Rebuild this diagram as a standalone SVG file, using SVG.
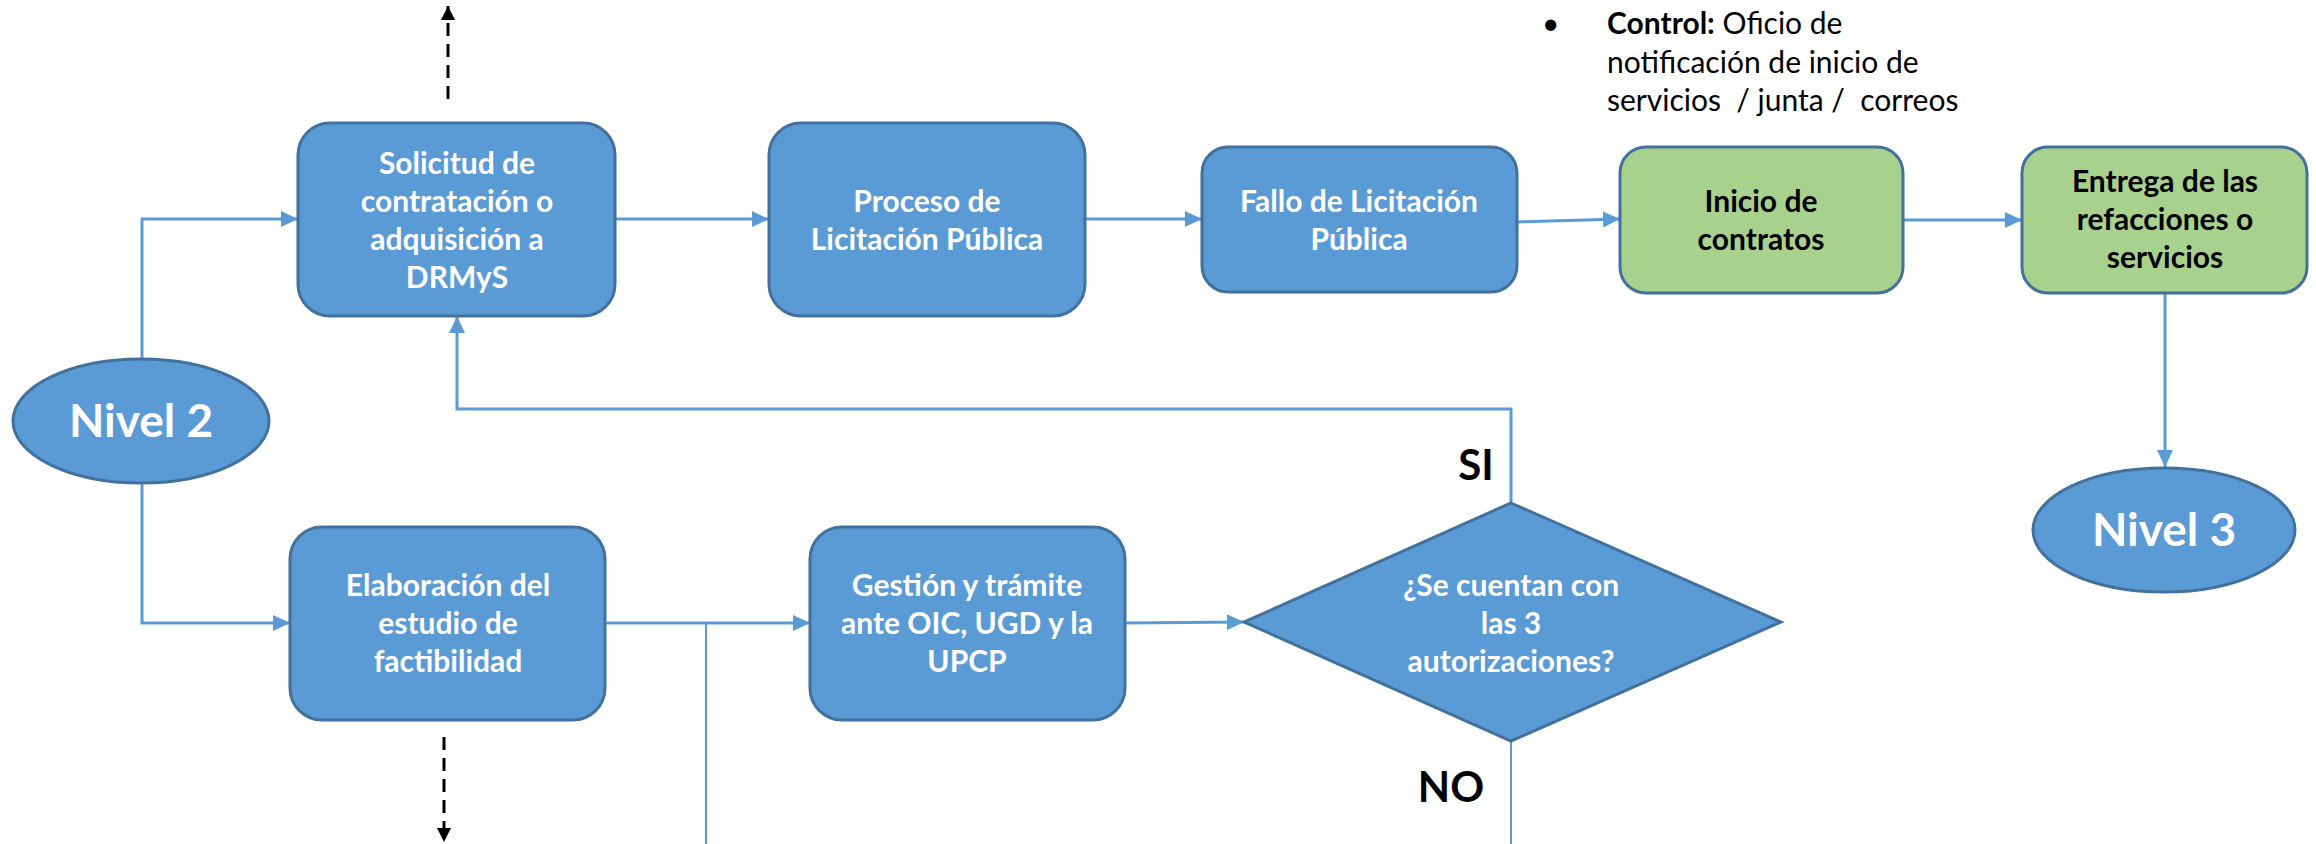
<svg xmlns="http://www.w3.org/2000/svg" width="2316" height="844" viewBox="0 0 2316 844">
<style>
.box{fill:#5B9BD5;stroke:#41719C;stroke-width:3}
.gbox{fill:#A9D18E;stroke:#41719C;stroke-width:3}
.wt{font-family:Lato,"Open Sans","Liberation Sans",sans-serif;font-weight:bold;font-size:30px;fill:#FFFFFF;text-anchor:middle}
.bt{font-family:Lato,"Open Sans","Liberation Sans",sans-serif;font-weight:bold;font-size:30px;fill:#000000;text-anchor:middle}
.big{font-family:Lato,"Open Sans","Liberation Sans",sans-serif;font-weight:bold;font-size:46px;fill:#FFFFFF;text-anchor:middle}
.lbl{font-family:Lato,"Open Sans","Liberation Sans",sans-serif;font-weight:bold;font-size:42px;fill:#000000;text-anchor:middle}
.note{font-family:Lato,"Open Sans","Liberation Sans",sans-serif;font-size:30px;fill:#000000}
.c{fill:none;stroke:#5B9BD5;stroke-width:3}
.thin{fill:none;stroke:#5B9BD5;stroke-width:2}
.d{fill:none;stroke:#000000;stroke-width:3;stroke-dasharray:13 8}
</style>
<defs>
<marker id="a" markerUnits="userSpaceOnUse" markerWidth="18" markerHeight="16" refX="17" refY="8" orient="auto"><path d="M0,0 L17,8 L0,16 z" fill="#5B9BD5"/></marker>
<marker id="k" markerUnits="userSpaceOnUse" markerWidth="14" markerHeight="14" refX="14" refY="7" orient="auto"><path d="M0,0 L14,7 L0,14 z" fill="#000000"/></marker>
</defs>
<g id="connectors">
<path class="c" d="M142,359 V219 H298" marker-end="url(#a)"/>
<path class="c" d="M142,483 V623 H290" marker-end="url(#a)"/>
<path class="c" d="M615,219 H769" marker-end="url(#a)"/>
<path class="c" d="M1085,219 H1202" marker-end="url(#a)"/>
<path class="c" d="M1517,222 L1620,219" marker-end="url(#a)"/>
<path class="c" d="M1903,220 H2022" marker-end="url(#a)"/>
<path class="c" d="M2165,293 V467" marker-end="url(#a)"/>
<path class="c" d="M605,623 H810" marker-end="url(#a)"/>
<path class="c" d="M1125,623 L1244,622" marker-end="url(#a)"/>
<path class="c" d="M1511,503 V409 H457 V316" marker-end="url(#a)"/>
<path class="thin" d="M1511,741 V844"/>
<path class="thin" d="M706,623 V844"/>
<path class="d" d="M448,99 V6" marker-end="url(#k)"/>
<path class="d" d="M444,737 V842" marker-end="url(#k)"/>
</g>
<g id="nivel2">
<ellipse class="box" cx="141" cy="421" rx="128" ry="62"/>
<text class="big" x="141" y="437">Nivel 2</text>
</g>
<g id="solicitud">
<rect class="box" x="298" y="123" width="317" height="193" rx="32"/>
<text class="wt" x="457" y="174">Solicitud de</text>
<text class="wt" x="457" y="212">contratación o</text>
<text class="wt" x="457" y="250">adquisición a</text>
<text class="wt" x="457" y="288">DRMyS</text>
</g>
<g id="proceso">
<rect class="box" x="769" y="123" width="316" height="193" rx="32"/>
<text class="wt" x="927" y="212">Proceso de</text>
<text class="wt" x="927" y="250">Licitación Pública</text>
</g>
<g id="fallo">
<rect class="box" x="1202" y="147" width="315" height="145" rx="26"/>
<text class="wt" x="1359" y="212">Fallo de Licitación</text>
<text class="wt" x="1359" y="250">Pública</text>
</g>
<g id="inicio">
<rect class="gbox" x="1620" y="147" width="283" height="146" rx="26"/>
<text class="bt" x="1761" y="212">Inicio de</text>
<text class="bt" x="1761" y="250">contratos</text>
</g>
<g id="entrega">
<rect class="gbox" x="2022" y="147" width="285" height="146" rx="26"/>
<text class="bt" x="2165" y="192">Entrega de las</text>
<text class="bt" x="2165" y="230">refacciones o</text>
<text class="bt" x="2165" y="268">servicios</text>
</g>
<g id="control">
<text class="note" x="1542" y="34">•</text>
<text class="note" x="1607" y="34"><tspan font-weight="bold">Control:</tspan> Oficio de</text>
<text class="note" x="1607" y="73">notificación de inicio de</text>
<text class="note" x="1607" y="111" xml:space="preserve">servicios  / junta /  correos</text>
</g>
<g id="nivel3">
<ellipse class="box" cx="2164" cy="530" rx="131" ry="62"/>
<text class="big" x="2164" y="546">Nivel 3</text>
</g>
<g id="elaboracion">
<rect class="box" x="290" y="527" width="315" height="193" rx="32"/>
<text class="wt" x="448" y="596">Elaboración del</text>
<text class="wt" x="448" y="634">estudio de</text>
<text class="wt" x="448" y="672">factibilidad</text>
</g>
<g id="gestion">
<rect class="box" x="810" y="527" width="315" height="193" rx="32"/>
<text class="wt" x="967" y="596">Gestión y trámite</text>
<text class="wt" x="967" y="634">ante OIC, UGD y la</text>
<text class="wt" x="967" y="672">UPCP</text>
</g>
<g id="decision">
<polygon class="box" points="1511,503 1781,622 1511,741 1244,622" stroke-width="2"/>
<text class="wt" x="1511" y="596">¿Se cuentan con</text>
<text class="wt" x="1511" y="634">las 3</text>
<text class="wt" x="1511" y="672">autorizaciones?</text>
</g>
<g id="labels">
<text class="lbl" x="1476" y="480">SI</text>
<text class="lbl" x="1451" y="802">NO</text>
</g>
</svg>
